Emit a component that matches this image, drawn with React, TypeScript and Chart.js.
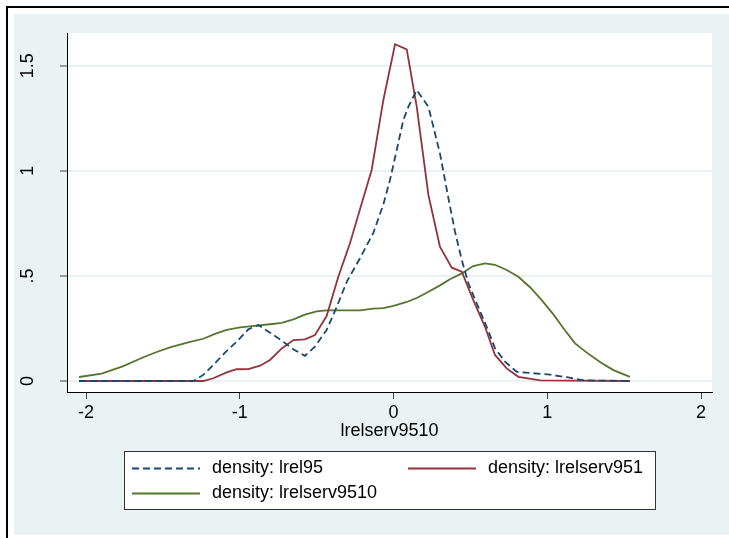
import React, { useEffect, useRef } from "react";
import { Chart, registerables } from "chart.js";

Chart.register(...registerables);

// ---- data ----
const X_TICKS = [-2, -1, 0, 1, 2];
const Y_TICKS = [0, 0.5, 1, 1.5];
const Y_TICK_LABELS = ["0", ".5", "1", "1.5"];
const X_TITLE = "lrelserv9510";
const SERIES_LABELS = ["density: lrel95", "density: lrelserv951", "density: lrelserv9510"];

const LREL95_X = [-2.045, -1.302, -1.237, -1.172, -1.096, -1.02, -0.944, -0.879, -0.803, -0.727, -0.652, -0.576, -0.511, -0.435, -0.369, -0.304, -0.218, -0.131, -0.066, -0.023, 0.021, 0.064, 0.097, 0.151, 0.227, 0.302, 0.357, 0.4, 0.444, 0.487, 0.541, 0.606, 0.66, 0.725, 0.801, 0.909, 1.018, 1.127, 1.235, 1.538];
const LREL95_Y = [0, 0, 0.029, 0.076, 0.135, 0.187, 0.246, 0.266, 0.23, 0.192, 0.151, 0.12, 0.163, 0.243, 0.353, 0.472, 0.584, 0.705, 0.84, 0.956, 1.099, 1.242, 1.305, 1.384, 1.305, 1.083, 0.87, 0.71, 0.576, 0.465, 0.37, 0.258, 0.156, 0.092, 0.044, 0.037, 0.03, 0.018, 0.003, 0];

const LRELSERV951_X = [-2.045, -1.237, -1.172, -1.085, -1.02, -0.944, -0.868, -0.803, -0.727, -0.651, -0.576, -0.511, -0.435, -0.359, -0.283, -0.207, -0.142, -0.066, 0.01, 0.086, 0.151, 0.227, 0.302, 0.379, 0.444, 0.519, 0.595, 0.66, 0.736, 0.812, 0.953, 1.538];
const LRELSERV951_Y = [0, 0, 0.013, 0.041, 0.056, 0.057, 0.073, 0.1, 0.155, 0.195, 0.198, 0.219, 0.309, 0.496, 0.655, 0.845, 1.004, 1.337, 1.602, 1.578, 1.305, 0.885, 0.639, 0.539, 0.52, 0.385, 0.258, 0.124, 0.06, 0.02, 0.003, 0];

const LRELSERV9510_X = [-2.045, -1.898, -1.757, -1.627, -1.54, -1.454, -1.323, -1.237, -1.161, -1.085, -0.998, -0.89, -0.803, -0.727, -0.651, -0.576, -0.5, -0.435, -0.218, -0.131, -0.066, 0.0, 0.086, 0.151, 0.216, 0.302, 0.367, 0.444, 0.519, 0.595, 0.66, 0.736, 0.812, 0.888, 0.964, 1.04, 1.105, 1.181, 1.257, 1.343, 1.43, 1.538];
const LRELSERV9510_Y = [0.019, 0.035, 0.071, 0.113, 0.138, 0.16, 0.186, 0.201, 0.224, 0.243, 0.255, 0.263, 0.27, 0.277, 0.293, 0.316, 0.331, 0.336, 0.336, 0.344, 0.347, 0.358, 0.376, 0.395, 0.42, 0.455, 0.484, 0.512, 0.547, 0.56, 0.553, 0.528, 0.496, 0.446, 0.385, 0.317, 0.251, 0.179, 0.135, 0.09, 0.052, 0.02];

const FONT_FAMILY = "'Liberation Sans', Arial, Helvetica, sans-serif";
const W = 729;
const H = 538;

const toPoints = (xs: number[], ys: number[]) => xs.map((x, i) => ({ x, y: ys[i] }));

const stataPlugin = {
  id: "stataFrame",
  beforeDraw(chart: any) {
    const ctx = chart.ctx;
    const { left, top, right, bottom } = chart.chartArea;
    ctx.save();
    ctx.fillStyle = "#ffffff";
    ctx.fillRect(0, 0, chart.width, chart.height);
    ctx.fillStyle = "#EAF2F3";
    ctx.fillRect(14, 14, chart.width - 14, 535 - 14);
    ctx.strokeStyle = "#000000";
    ctx.lineWidth = 2;
    ctx.strokeRect(7, 7, chart.width + 20, chart.height + 20);
    ctx.fillStyle = "#ffffff";
    ctx.fillRect(left, top, right - left, bottom - top);
    ctx.restore();
  },
  afterDraw(chart: any) {
    const ctx = chart.ctx;
    ctx.save();
    // legend box
    ctx.fillStyle = "#ffffff";
    ctx.fillRect(124.5, 451.5, 531, 58);
    ctx.strokeStyle = "#333333";
    ctx.lineWidth = 1;
    ctx.strokeRect(124.5, 451.5, 531, 58);
    const slots = [
      { x: 132, y: 468.5 },
      { x: 408, y: 468.5 },
      { x: 132, y: 493.5 },
    ];
    chart.data.datasets.forEach((ds: any, i: number) => {
      const s = slots[i];
      ctx.beginPath();
      ctx.strokeStyle = ds.borderColor;
      ctx.lineWidth = ds.borderWidth;
      ctx.setLineDash(ds.borderDash || []);
      ctx.moveTo(s.x, s.y);
      ctx.lineTo(s.x + 68, s.y);
      ctx.stroke();
      ctx.setLineDash([]);
      ctx.fillStyle = "#000000";
      ctx.font = `18px ${FONT_FAMILY}`;
      ctx.textBaseline = "middle";
      ctx.textAlign = "left";
      ctx.fillText(ds.label, s.x + 80, s.y);
    });
    ctx.restore();
  },
};

export default function App() {
  const canvasRef = useRef<HTMLCanvasElement | null>(null);

  useEffect(() => {
    if (!canvasRef.current) return;
    const chart = new Chart(canvasRef.current, {
      type: "line",
      data: {
        datasets: [
          {
            label: SERIES_LABELS[0],
            data: toPoints(LREL95_X, LREL95_Y),
            borderColor: "#1A476F",
            borderWidth: 1.8,
            borderDash: [7, 4],
            pointRadius: 0,
            tension: 0,
            fill: false,
          },
          {
            label: SERIES_LABELS[1],
            data: toPoints(LRELSERV951_X, LRELSERV951_Y),
            borderColor: "#90353B",
            borderWidth: 1.8,
            pointRadius: 0,
            tension: 0,
            fill: false,
          },
          {
            label: SERIES_LABELS[2],
            data: toPoints(LRELSERV9510_X, LRELSERV9510_Y),
            borderColor: "#55752F",
            borderWidth: 1.8,
            pointRadius: 0,
            tension: 0,
            fill: false,
          },
        ],
      },
      options: {
        responsive: false,
        animation: false,
        devicePixelRatio: 1,
        layout: { padding: { left: 0, top: 33, right: 17, bottom: 96.5 } },
        plugins: {
          legend: { display: false },
          tooltip: { enabled: false },
        },
        scales: {
          x: {
            type: "linear",
            min: -2.1236,
            max: 2.0715,
            afterBuildTicks: (s: any) => {
              s.ticks = X_TICKS.map((v) => ({ value: v }));
            },
            afterFit: (s: any) => {
              s.height = 49.5;
            },
            grid: {
              drawOnChartArea: false,
              drawTicks: true,
              tickLength: 7,
              tickColor: "#444444",
              tickWidth: 1,
            },
            border: { display: true, color: "#000000", width: 1 },
            ticks: {
              color: "#000000",
              font: { family: FONT_FAMILY, size: 18 },
              padding: 3,
              maxRotation: 0,
              minRotation: 0,
              autoSkip: false,
              callback: (v: any) => String(v),
            },
            title: {
              display: true,
              text: X_TITLE,
              color: "#000000",
              font: { family: FONT_FAMILY, size: 18 },
              padding: 0,
            },
          },
          y: {
            type: "linear",
            min: -0.0523,
            max: 1.6556,
            afterBuildTicks: (s: any) => {
              s.ticks = Y_TICKS.map((v) => ({ value: v }));
            },
            afterFit: (s: any) => {
              s.width = 67;
            },
            grid: {
              color: "#EAF2F3",
              lineWidth: 2,
              drawTicks: true,
              tickLength: 7,
              tickColor: "#444444",
              tickWidth: 1,
            },
            border: { display: true, color: "#000000", width: 1 },
            ticks: {
              color: "#000000",
              font: { family: FONT_FAMILY, size: 18 },
              minRotation: 90,
              maxRotation: 90,
              crossAlign: "center",
              padding: 19.5,
              autoSkip: false,
              callback: (v: any) => Y_TICK_LABELS[Y_TICKS.indexOf(v)] ?? "",
            },
          },
        },
      },
      plugins: [stataPlugin],
    } as any);
    return () => chart.destroy();
  }, []);

  return (
    <div style={{ position: "absolute", left: 0, top: 0, width: W, height: H }}>
      <canvas ref={canvasRef} width={W} height={H} style={{ display: "block" }} />
    </div>
  );
}
